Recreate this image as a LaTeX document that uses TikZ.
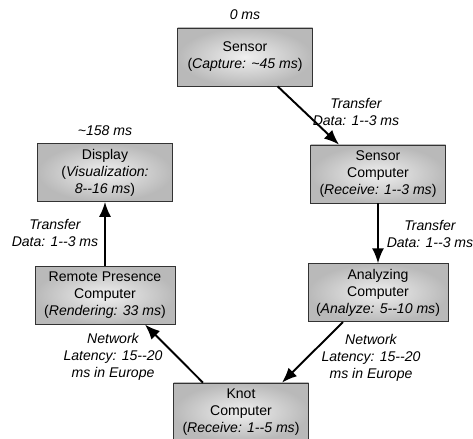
\documentclass[tikz,border=0pt]{standalone}
\usepackage{fontspec}
\setmainfont{Liberation Sans}
\usetikzlibrary{shapes,arrows.meta,positioning,calc}

\begin{document}
\begin{tikzpicture}[
    node distance=1.2cm,
    font=\fontsize{8}{9.7}\selectfont,
    block/.style={
        rectangle,
        draw=black!80,
        shading=radial,
        inner color=gray!12,
        outer color=gray!55,
        align=center,
        minimum width=2.7cm,
        minimum height=1.16cm,
        inner sep=1pt
    },
    note/.style={
        align=center,
        font=\fontsize{8}{9.7}\selectfont\itshape
    },
    line/.style={
        draw,
        -{Latex[length=3mm,width=2.4mm]},
        line width=1.1pt
    }
]
\useasboundingbox (0,0) rectangle (9.46,8.78);

% Nodes
\node [block] (sensor) at (4.9,7.64) {Sensor\\(\textit{Capture: \textasciitilde45 ms})};
\node [block] (sc) at (7.56,5.3) {Sensor\\Computer\\(\textit{Receive: 1-{}-3 ms})};
\node [block, below=of sc, minimum width=2.8cm] (ac) {Analyzing\\Computer\\(\textit{Analyze: 5-{}-10 ms})};
\node [block] (knot) at (4.82,0.54) {Knot\\Computer\\(\textit{Receive: 1-{}-5 ms})};
\node [block] (display) at (2.1,5.33) {Display\\(\textit{Visualization:}\\\textit{8-{}-16 ms})};
\node [block, below=1.28cm of display, minimum width=2.8cm] (rp) {Remote Presence\\Computer\\(\textit{Rendering: 33 ms})};

% Times
\node [note, above=1pt of sensor] (t0) {0 ms};
\node [note, above=1pt of display] (tend) {\textasciitilde158 ms};

% Edge labels
\node [note] (l1) at (7.12,6.54) {Transfer\\Data: 1-{}-3 ms};
\node [note] (l2) at (8.6,4.1) {Transfer\\Data: 1-{}-3 ms};
\node [note] (l3) at (7.42,1.62) {Network\\Latency: 15-{}-20\\ms in Europe};
\node [note] (l4) at (2.26,1.64) {Network\\Latency: 15-{}-20\\ms in Europe};
\node [note] (l5) at (1.1,4.12) {Transfer\\Data: 1-{}-3 ms};

% Edges
\path [line] (sensor.-42) -- (sc.143);
\path [line] (sc) -- (ac);
\path [line] ($(ac.south)+(-0.7,0)$) -- ($(knot.north)+(0.82,0)$);
\path [line] ($(knot.north)+(-0.76,0)$) -- ($(rp.south)+(0.8,0)$);
\path [line] (rp) -- (display);

\end{tikzpicture}
\end{document}
